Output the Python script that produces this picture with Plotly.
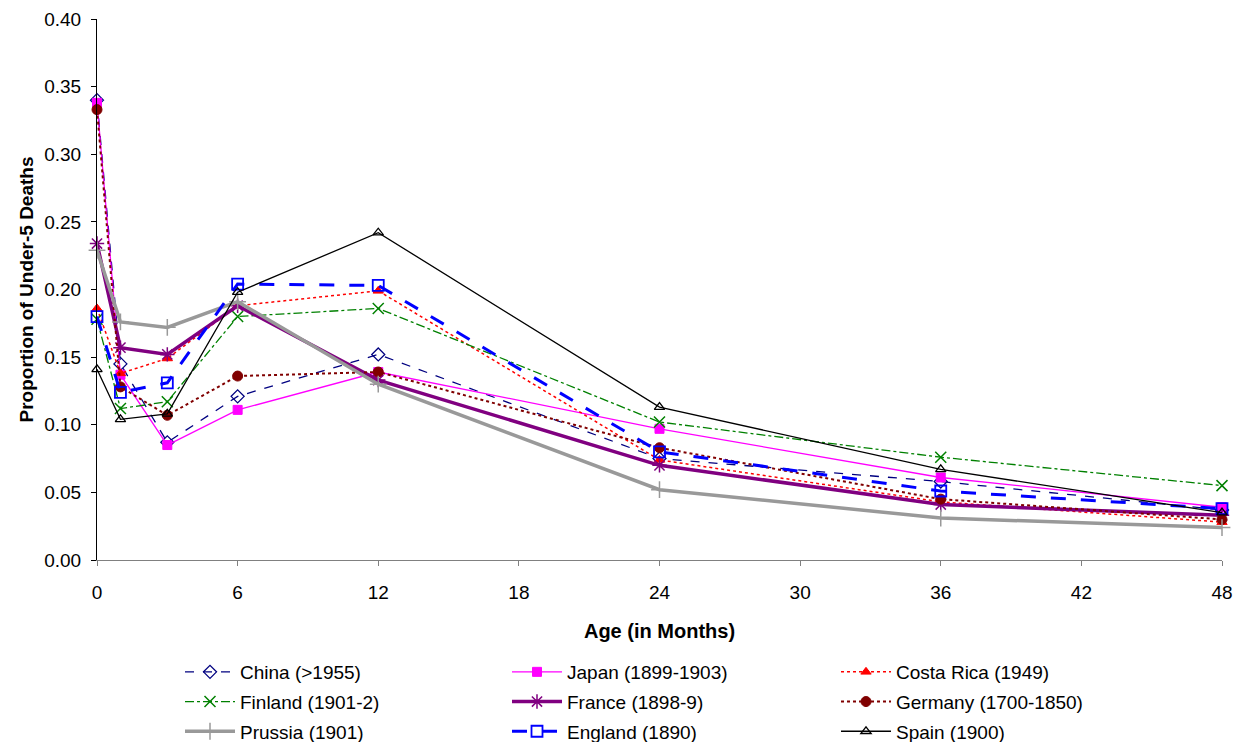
import plotly.graph_objects as go

ages = [0, 1, 3, 6, 12, 24, 36, 48]

china = [0.340, 0.145, 0.087, 0.121, 0.152, 0.075, 0.058, 0.037]
japan = [0.338, 0.137, 0.085, 0.111, 0.139, 0.097, 0.061, 0.039]
costa_rica = [0.186, 0.138, 0.149, 0.188, 0.199, 0.074, 0.043, 0.028]
finland = [0.178, 0.112, 0.117, 0.180, 0.186, 0.102, 0.076, 0.055]
france = [0.234, 0.157, 0.152, 0.188, 0.133, 0.070, 0.041, 0.033]
germany = [0.333, 0.128, 0.107, 0.136, 0.139, 0.083, 0.045, 0.030]
prussia = [0.229, 0.176, 0.172, 0.191, 0.130, 0.052, 0.031, 0.024]
england = [0.180, 0.124, 0.131, 0.204, 0.203, 0.080, 0.051, 0.038]
spain = [0.141, 0.104, 0.108, 0.198, 0.242, 0.113, 0.067, 0.035]

names = ["China (>1955)", "Japan (1899-1903)", "Costa Rica (1949)",
         "Finland (1901-2)", "France (1898-9)", "Germany (1700-1850)",
         "Prussia (1901)", "England (1890)", "Spain (1900)"]
series = [china, japan, costa_rica, finland, france, germany, prussia, england, spain]

styles = [
    dict(color="#000080", width=1.3, dash="dash", symbol="diamond-open", size=10, mlw=1.3),
    dict(color="#FF00FF", width=1.3, dash="solid", symbol="square", size=9, mlw=1),
    dict(color="#FF0000", width=1.5, dash="dot", symbol="triangle-up", size=9, mlw=1),
    dict(color="#008000", width=1.3, dash="dashdot", symbol="x-thin-open", size=11, mlw=1.5),
    dict(color="#800080", width=3.5, dash="solid", symbol="asterisk-open", size=12, mlw=1.5),
    dict(color="#800000", width=2, dash="dot", symbol="circle", size=10, mlw=1),
    dict(color="#999999", width=3.5, dash="solid", symbol="cross-thin-open", size=12, mlw=1.5),
    dict(color="#0000FF", width=3, dash="longdash", symbol="square-open", size=11, mlw=1.8),
    dict(color="#000000", width=1.3, dash="solid", symbol="triangle-up-open", size=9, mlw=1.3),
]
legend_ids = ["legend", "legend2", "legend3"] * 3

fig = go.Figure()
for i, (name, vals, s) in enumerate(zip(names, series, styles)):
    fig.add_trace(go.Scatter(
        x=ages, y=vals, name=name, mode="lines+markers",
        line=dict(color=s["color"], width=s["width"], dash=s["dash"]),
        marker=dict(symbol=s["symbol"], size=s["size"], color=s["color"],
                    line=dict(color=s["color"], width=s["mlw"])),
        cliponaxis=False, legend=legend_ids[i], legendgroup=name,
    ))

# page body has an 8px margin; figure sized to fit the window exactly
W, H = 1235, 734
font_family = "Liberation Sans, Arial, sans-serif"
leg_top = 645
leg_common = dict(orientation="v", yref="container", xref="paper",
                  yanchor="top", y=1 - leg_top / H, xanchor="left",
                  font=dict(size=19, color="black"), itemwidth=50,
                  tracegroupgap=2, bgcolor="rgba(0,0,0,0)")
fig.update_layout(
    width=W, height=H,
    margin=dict(l=89, r=21, t=11, b=182),
    plot_bgcolor="white", paper_bgcolor="white",
    font=dict(family=font_family, size=19, color="black"),
    xaxis=dict(range=[0, 48], tickvals=[0, 6, 12, 18, 24, 30, 36, 42, 48],
               showline=True, linecolor="#808080", linewidth=1, ticks="outside",
               ticklen=5, tickcolor="#808080", showgrid=False, zeroline=False,
               tickfont=dict(size=19), ticklabelstandoff=10, automargin=False,
               title=dict(text="<b>Age (in Months)</b>", font=dict(size=20), standoff=22)),
    yaxis=dict(range=[0, 0.4], dtick=0.05, tickformat=".2f",
               showline=True, linecolor="black", linewidth=1, ticks="outside",
               ticklen=5, tickcolor="black", showgrid=False, zeroline=False,
               tickfont=dict(size=19), ticklabelstandoff=6, automargin=False,
               title=dict(text="<b>Proportion of Under-5 Deaths</b>", font=dict(size=19), standoff=5)),
    legend=dict(x=(180 - 97) / 1125, **leg_common),
    legend2=dict(x=(507 - 97) / 1125, **leg_common),
    legend3=dict(x=(836 - 97) / 1125, **leg_common),
    showlegend=True,
)

fig.write_html("out.html")
